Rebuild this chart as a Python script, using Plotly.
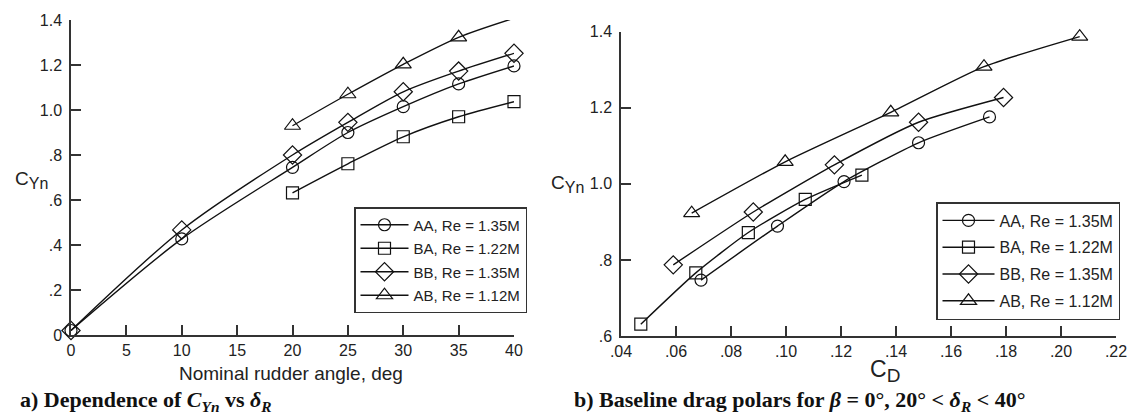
import plotly.graph_objects as go

# ---------------- data ----------------
series_names = ["AA, Re = 1.35M", "BA, Re = 1.22M", "BB, Re = 1.35M", "AB, Re = 1.12M"]
symbols = ["circle-open", "square-open", "diamond-open", "triangle-up-open"]
sizes = [12, 12, 14, 14]

# (a) C_Yn vs nominal rudder angle
rudder_AA = [0, 10, 20, 25, 30, 35, 40]
cyn_AA = [0.02, 0.427, 0.745, 0.900, 1.015, 1.116, 1.196]
rudder_BA = [20, 25, 30, 35, 40]
cyn_BA = [0.632, 0.761, 0.881, 0.970, 1.037]
rudder_BB = [0, 10, 20, 25, 30, 35, 40]
cyn_BB = [0.02, 0.467, 0.800, 0.945, 1.081, 1.173, 1.252]
rudder_AB = [20, 25, 30, 35, 40]
cyn_AB = [0.930, 1.070, 1.203, 1.323, 1.408]

# (b) drag polars C_Yn vs C_D
cd_AA = [0.0691, 0.0969, 0.1211, 0.1482, 0.1740]
cynb_AA = [0.747, 0.889, 1.006, 1.108, 1.176]
cd_BA = [0.0472, 0.0672, 0.0863, 0.1070, 0.1276]
cynb_BA = [0.631, 0.766, 0.872, 0.959, 1.023]
cd_BB = [0.0590, 0.0881, 0.1176, 0.1482, 0.1791]
cynb_BB = [0.787, 0.926, 1.050, 1.162, 1.227]
cd_AB = [0.0657, 0.0997, 0.1381, 0.1720, 0.2068]
cynb_AB = [0.923, 1.058, 1.188, 1.308, 1.387]

x_ticks_a = [0, 5, 10, 15, 20, 25, 30, 35, 40]
y_ticks_a = [0, 0.2, 0.4, 0.6, 0.8, 1.0, 1.2, 1.4]
y_labels_a = ["0", ".2", ".4", ".6", ".8", "1.0", "1.2", "1.4"]
x_ticks_b = [0.04, 0.06, 0.08, 0.10, 0.12, 0.14, 0.16, 0.18, 0.20, 0.22]
x_labels_b = [".04", ".06", ".08", ".10", ".12", ".14", ".16", ".18", ".20", ".22"]
y_ticks_b = [0.6, 0.8, 1.0, 1.2, 1.4]
y_labels_b = [".6", ".8", "1.0", "1.2", "1.4"]

W, H = 1131, 417
FONT = "Liberation Sans, Arial, sans-serif"
SERIF = "Liberation Serif, Times New Roman, serif"
INK = "#222222"

fig = go.Figure()

left_x = [rudder_AA, rudder_BA, rudder_BB, rudder_AB]
left_y = [cyn_AA, cyn_BA, cyn_BB, cyn_AB]
right_x = [cd_AA, cd_BA, cd_BB, cd_AB]
right_y = [cynb_AA, cynb_BA, cynb_BB, cynb_AB]

for i in range(4):
    fig.add_trace(go.Scatter(
        x=left_x[i], y=left_y[i], mode="lines+markers", name=series_names[i],
        legendgroup="a%d" % i,
        line=dict(color="#111111", width=1.4, shape="spline", smoothing=0.8),
        marker=dict(symbol=symbols[i], size=sizes[i], color="#111111",
                    line=dict(width=1.2, color="#111111")),
        cliponaxis=False, xaxis="x", yaxis="y", legend="legend"))
for i in range(4):
    fig.add_trace(go.Scatter(
        x=right_x[i], y=right_y[i], mode="lines+markers", name=series_names[i],
        legendgroup="b%d" % i,
        line=dict(color="#111111", width=1.4, shape="spline", smoothing=0.6),
        marker=dict(symbol=symbols[i], size=sizes[i], color="#111111",
                    line=dict(width=1.2, color="#111111")),
        cliponaxis=False, xaxis="x2", yaxis="y2", legend="legend2"))

def px_x(p):
    return p / W

def px_y(p):
    return (H - p) / H

axis_common = dict(showline=True, linecolor="#333333", linewidth=1.5,
                   ticks="inside", ticklen=10, tickwidth=1.5, tickcolor="#333333",
                   showgrid=False, zeroline=False, mirror=False, automargin=False,
                   tickfont=dict(family=FONT, size=16, color=INK), fixedrange=True)

fig.update_layout(
    width=W, height=H, margin=dict(l=0, r=0, t=0, b=0, autoexpand=False),
    paper_bgcolor="white", plot_bgcolor="white",
    showlegend=True,
    xaxis=dict(domain=[px_x(71), px_x(514)], range=[0, 40], tickvals=x_ticks_a,
               anchor="y", ticklabelstandoff=0, **axis_common),
    yaxis=dict(domain=[px_y(335), px_y(20)], range=[0, 1.4], tickvals=y_ticks_a,
               ticktext=y_labels_a, anchor="x", ticklabelstandoff=4, **axis_common),
    xaxis2=dict(domain=[px_x(621), px_x(1116)], range=[0.04, 0.22], tickvals=x_ticks_b,
                ticktext=x_labels_b, anchor="y2", ticklabelstandoff=0, **axis_common),
    yaxis2=dict(domain=[px_y(336), px_y(31.7)], range=[0.6, 1.4], tickvals=y_ticks_b,
                ticktext=y_labels_b, anchor="x2", ticklabelstandoff=4, **axis_common),
    legend=dict(x=px_x(354), y=px_y(207), xanchor="left", yanchor="top",
                bordercolor="#333333", borderwidth=1.5, bgcolor="white",
                font=dict(family=FONT, size=15, color=INK), tracegroupgap=1,
                itemwidth=48),
    legend2=dict(x=px_x(936), y=px_y(202), xanchor="left", yanchor="top",
                 bordercolor="#333333", borderwidth=1.5, bgcolor="white",
                 font=dict(family=FONT, size=16, color=INK), tracegroupgap=3,
                 itemwidth=52),
)

def note(text, x, y, size, family=FONT, xanchor="center", color=INK):
    return dict(text=text, x=px_x(x), y=px_y(y), xref="paper", yref="paper",
                xanchor=xanchor, yanchor="middle", showarrow=False,
                font=dict(family=family, size=size, color=color))

cyn_txt = "C<sub><span style='font-size:16px'>Yn</span></sub>"
ann = [
    note(cyn_txt, 31, 180, 19),
    note(cyn_txt, 567, 184, 19),
    note("Nominal rudder angle, deg", 291, 373, 19),
    note("C<sub><span style='font-size:19px'>D</span></sub>", 885, 371, 23),
    note("<b>a) Dependence of <i>C</i><sub><i>Yn</i></sub> vs <i>δ</i><sub><i>R</i></sub></b>",
         18, 401, 22, family=SERIF, xanchor="left", color="#111111"),
    note("<b>b) Baseline drag polars for <i>β</i> = 0°, 20° &lt; <i>δ</i><sub><i>R</i></sub> &lt; 40°</b>",
         572, 401, 22, family=SERIF, xanchor="left", color="#111111"),
]
fig.update_layout(annotations=ann)

fig.write_html("out.html",
               post_script="document.body.style.margin='0';document.body.style.overflow='hidden';")
